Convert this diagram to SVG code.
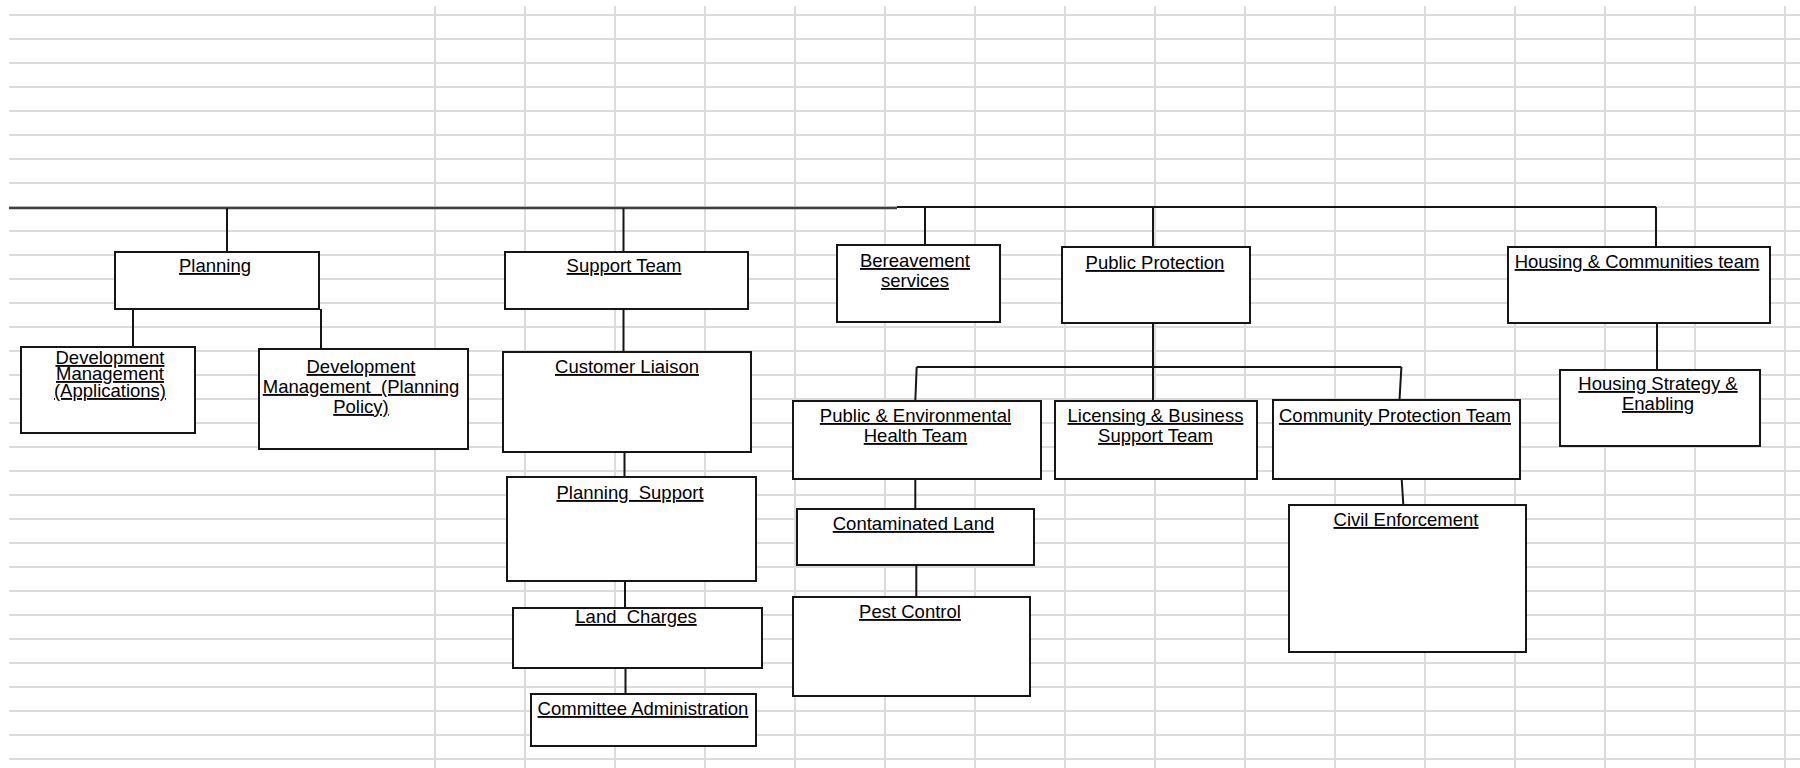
<svg xmlns="http://www.w3.org/2000/svg" width="1800" height="768" viewBox="0 0 1800 768">
<style>
.grid{stroke:#dcdcdc;stroke-width:2;fill:none}
.box{fill:#ffffff;stroke:#161616;stroke-width:2}
.lbl{font-family:"Liberation Sans",Arial,sans-serif;font-size:18.5px;fill:#000;text-anchor:middle;text-decoration:underline}
.conn{stroke:#161616;stroke-width:2;fill:none}
.main{stroke:#404040;stroke-width:2.5;fill:none}
</style>
<rect x="0" y="0" width="1800" height="768" fill="#ffffff"/>
<g id="grid">
<path class="grid" d="M9,15H1800M9,39H1800M9,63H1800M9,87H1800M9,111H1800M9,135H1800M9,159H1800M9,183H1800M9,207H1800M9,231H1800M9,255H1800M9,279H1800M9,303H1800M9,327H1800M9,351H1800M9,375H1800M9,399H1800M9,423H1800M9,447H1800M9,471H1800M9,495H1800M9,519H1800M9,543H1800M9,567H1800M9,591H1800M9,615H1800M9,639H1800M9,663H1800M9,687H1800M9,711H1800M9,735H1800M9,759H1800"/>
<path class="grid" d="M435,6V768M525,6V768M615,6V768M705,6V768M795,6V768M885,6V768M975,6V768M1065,6V768M1155,6V768M1245,6V768M1335,6V768M1425,6V768M1515,6V768M1605,6V768M1695,6V768M1785,6V768"/>
</g>
<g id="connectors">
<path class="main" d="M9,208H897"/>
<path class="conn" d="M897,207H1656"/>
<path class="conn" d="M227,208V252M623.5,208V252M925,208V245M1153,206V247M1656,207V247"/>
<path class="conn" d="M133,309V347M321,309V349"/>
<path class="conn" d="M623.5,309V352M624.5,452V477M625,581V608M625.5,668V694"/>
<path class="conn" d="M1153,323V401M916.7,367H1401.4M916.7,367L915.3,401M1401.4,367L1399.5,400"/>
<path class="conn" d="M915.3,479V509M916.3,565V597"/>
<path class="conn" d="M1401.7,479L1403.3,505"/>
<path class="conn" d="M1657,323V370"/>
</g>
<g id="planning"><rect class="box" x="115" y="252" width="204" height="57"/><text class="lbl" x="215" y="272">Planning</text></g>
<g id="dm-applications"><rect class="box" x="21" y="347" width="174" height="86"/><text class="lbl" x="110" y="364">Development</text><text class="lbl" x="110" y="380">Management</text><text class="lbl" x="110" y="397">(Applications)</text></g>
<g id="dm-policy"><rect class="box" x="259" y="349" width="209" height="100"/><text class="lbl" x="361" y="373">Development</text><text class="lbl" x="361" y="393" xml:space="preserve">Management  (Planning</text><text class="lbl" x="361" y="413">Policy)</text></g>
<g id="support-team"><rect class="box" x="505" y="252" width="243" height="57"/><text class="lbl" x="624" y="272">Support Team</text></g>
<g id="customer-liaison"><rect class="box" x="503" y="352" width="248" height="100"/><text class="lbl" x="627" y="373">Customer Liaison</text></g>
<g id="planning-support"><rect class="box" x="507" y="477" width="249" height="104"/><text class="lbl" x="630" y="499" xml:space="preserve">Planning  Support</text></g>
<g id="land-charges"><rect class="box" x="513" y="608" width="249" height="60"/><text class="lbl" x="636" y="623" xml:space="preserve">Land  Charges</text></g>
<g id="committee-administration"><rect class="box" x="531" y="694" width="225" height="52"/><text class="lbl" x="643" y="715">Committee Administration</text></g>
<g id="bereavement"><rect class="box" x="837" y="245" width="163" height="77"/><text class="lbl" x="915" y="267">Bereavement</text><text class="lbl" x="915" y="287">services</text></g>
<g id="public-protection"><rect class="box" x="1062" y="247" width="188" height="76"/><text class="lbl" x="1155" y="269">Public Protection</text></g>
<g id="public-env-health"><rect class="box" x="793" y="401" width="248" height="78"/><text class="lbl" x="915.5" y="422">Public &amp; Environmental</text><text class="lbl" x="915.5" y="442">Health Team</text></g>
<g id="licensing"><rect class="box" x="1055" y="401" width="202" height="78"/><text class="lbl" x="1155.5" y="422">Licensing &amp; Business</text><text class="lbl" x="1155.5" y="442">Support Team</text></g>
<g id="community-protection"><rect class="box" x="1273" y="400" width="247" height="79"/><text class="lbl" x="1395" y="422">Community Protection Team</text></g>
<g id="contaminated-land"><rect class="box" x="797" y="509" width="237" height="56"/><text class="lbl" x="913.5" y="530">Contaminated Land</text></g>
<g id="pest-control"><rect class="box" x="793" y="597" width="237" height="99"/><text class="lbl" x="910" y="618">Pest Control</text></g>
<g id="civil-enforcement"><rect class="box" x="1289" y="505" width="237" height="147"/><text class="lbl" x="1406" y="526">Civil Enforcement</text></g>
<g id="housing-communities"><rect class="box" x="1508" y="247" width="262" height="76"/><text class="lbl" x="1637" y="268">Housing &amp; Communities team</text></g>
<g id="housing-strategy"><rect class="box" x="1560" y="370" width="200" height="76"/><text class="lbl" x="1658" y="390">Housing Strategy &amp;</text><text class="lbl" x="1658" y="410">Enabling</text></g>
</svg>
